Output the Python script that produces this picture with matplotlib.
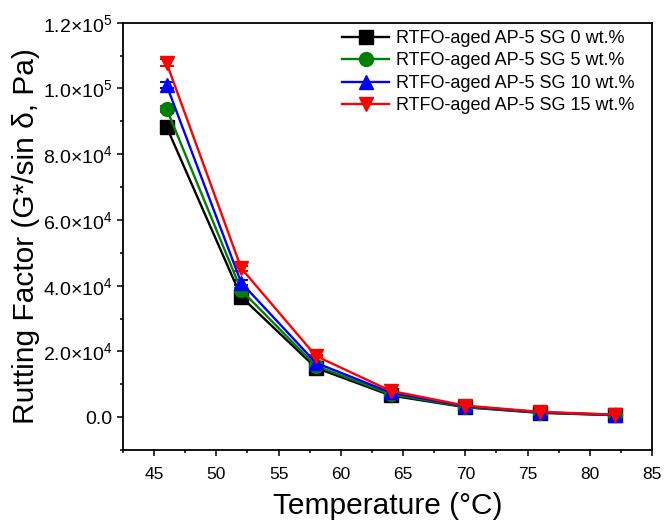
import matplotlib
matplotlib.use("Agg")
import math
import matplotlib.pyplot as plt
from matplotlib.lines import Line2D
from matplotlib.ticker import MultipleLocator, FuncFormatter

plt.rcParams['font.family'] = ['Liberation Sans', 'DejaVu Sans']
plt.rcParams['mathtext.fontset'] = 'custom'
plt.rcParams['mathtext.rm'] = 'Liberation Sans'
plt.rcParams['mathtext.it'] = 'Liberation Sans:italic'

temps = [46, 52, 58, 64, 70, 76, 82]
labels = ["RTFO-aged AP-5 SG 0 wt.%", "RTFO-aged AP-5 SG 5 wt.%",
          "RTFO-aged AP-5 SG 10 wt.%", "RTFO-aged AP-5 SG 15 wt.%"]
sg0 = [88300, 36600, 15000, 6600, 3000, 1300, 600]
sg5 = [93800, 38600, 15600, 7000, 3100, 1400, 650]
sg10 = [101000, 40900, 16500, 7500, 3300, 1500, 700]
sg15 = [107800, 45300, 18600, 8000, 3500, 1600, 750]
err0 = [900, 700, 300, 150, 80, 50, 30]
err5 = [900, 700, 300, 150, 80, 50, 30]
err10 = [900, 700, 300, 150, 80, 50, 30]
err15 = [1100, 800, 300, 150, 80, 50, 30]

series = [sg0, sg5, sg10, sg15]
errs = [err0, err5, err10, err15]
colors = ['black', 'green', 'blue', 'red']
markers = ['s', 'o', '^', 'v']

fig = plt.figure(figsize=(6.64, 5.22), dpi=100)
ax = fig.add_axes([123/664, 1 - 450/522, (652-123)/664, (450-22.7)/522])

handles = []
for y, e, c, m, lab in zip(series, errs, colors, markers, labels):
    ax.errorbar(temps, y, yerr=e, color=c, marker=m, markersize=10, lw=1.7,
                elinewidth=1.5, capsize=5, capthick=1.5)
    handles.append(Line2D([], [], color=c, marker=m, markersize=10, lw=1.7, label=lab))

ax.set_xlim(42.5, 85)
ax.set_ylim(-1e4, 1.2e5)
ax.xaxis.set_major_locator(MultipleLocator(5))
ax.xaxis.set_minor_locator(MultipleLocator(2.5))
ax.yaxis.set_major_locator(MultipleLocator(2e4))
ax.yaxis.set_minor_locator(MultipleLocator(1e4))

def yfmt(v, pos):
    if abs(v) < 1:
        return '0.0'
    exp = int(math.floor(math.log10(abs(v))))
    mant = v / 10**exp
    return r'$\mathrm{%.1f{\times}10^{%d}}$' % (mant, exp)

ax.yaxis.set_major_formatter(FuncFormatter(yfmt))
ax.tick_params(which='major', direction='out', length=4.5, width=1.1)
ax.tick_params(which='minor', direction='out', length=2.5, width=1.1)
ax.tick_params(axis='x', labelsize=12.5, pad=8)
ax.tick_params(axis='y', labelsize=14, pad=3)
for s in ax.spines.values():
    s.set_linewidth(1.3)

ax.set_xlabel('Temperature (°C)', fontsize=21.5, labelpad=7)
ax.set_ylabel('Rutting Factor (G*/sin δ, Pa)', fontsize=21.5, labelpad=2)

leg = ax.legend(handles=handles, loc='upper right', bbox_to_anchor=(634/664, 1 - 30/522),
                bbox_transform=fig.transFigure, fontsize=13, frameon=False,
                handlelength=2.6, handletextpad=0.35, borderpad=0.0,
                labelspacing=0.3, borderaxespad=0)

fig.savefig('out.png', dpi=100)
